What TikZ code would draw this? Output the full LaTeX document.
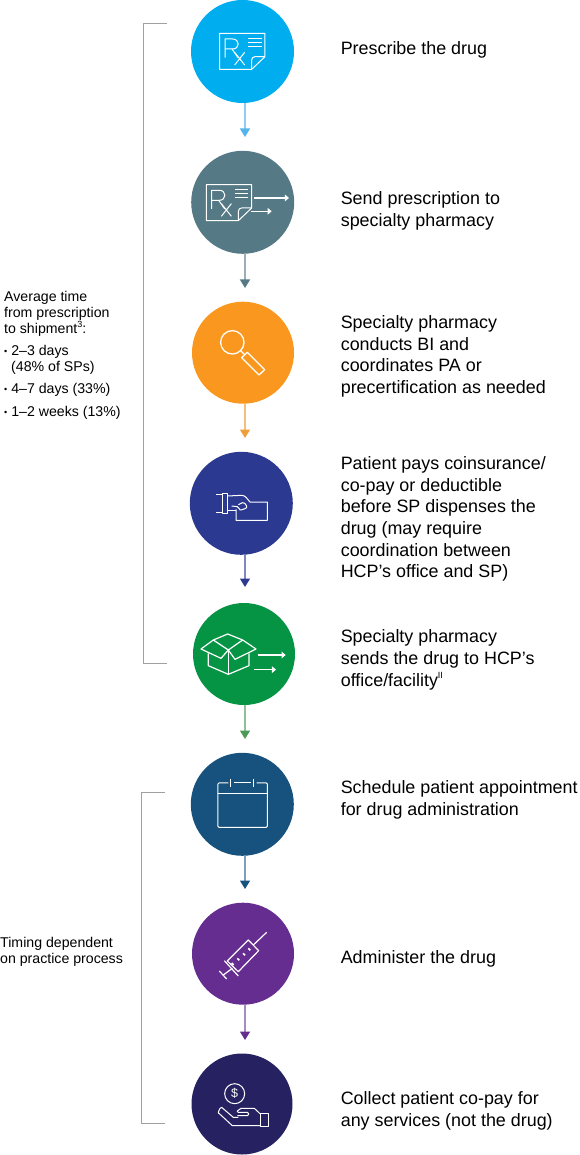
\documentclass[tikz,border=0pt]{standalone}
\usepackage{fontspec}
\setmainfont{Liberation Sans}
\usetikzlibrary{arrows.meta}
\definecolor{cA}{HTML}{00AEEF}\definecolor{cB}{HTML}{557A85}\definecolor{cC}{HTML}{F9971F}\definecolor{cD}{HTML}{2B3990}
\definecolor{cE}{HTML}{059444}\definecolor{cF}{HTML}{16527D}\definecolor{cG}{HTML}{662D91}\definecolor{cH}{HTML}{262262}
\definecolor{lA}{HTML}{8FCDF1}\definecolor{lB}{HTML}{9AAFB8}\definecolor{lC}{HTML}{F2BE82}\definecolor{lD}{HTML}{7F88BD}
\definecolor{lE}{HTML}{8FC097}\definecolor{lF}{HTML}{7F9DB8}\definecolor{lG}{HTML}{A58BC0}
\definecolor{hA}{HTML}{55B5EA}\definecolor{hC}{HTML}{EE9F3B}\definecolor{hE}{HTML}{4C9A55}
\definecolor{bracketgray}{HTML}{A0A0A0}
\newcommand{\mainsize}{\fontsize{17.9}{21.7}\selectfont}
\newcommand{\sidesize}{\fontsize{14.15}{16}\selectfont}
\newcommand{\smallbullet}{{\fontsize{9}{9}\selectfont\raisebox{1pt}{•}}}
\newcommand{\supr}[1]{\raisebox{.42em}{\fontsize{9}{9}\selectfont #1}}
\newcommand{\rxicon}[2]{%
\begin{scope}[shift={(#1,#2)},x=.3333pt,y=-.3333pt,icon]
\draw (29,25)--(165,25)--(165,95)--(125,133)--(29,133)--cycle;
\draw (125,133)--(125,105) to[out=90,in=180] (135,95)--(165,95);
\draw (45,98)--(45,42)--(68,42) .. controls (90,42) and (90,72) .. (68,72)--(45,72);
\draw (66,72)--(84,98);
\draw (74,82)--(104,120) (104,82)--(74,120);
\draw (115,40)--(155,40) (115,52)--(155,52) (115,64)--(155,64);
\end{scope}}
\tikzset{
  circ/.style={circle,minimum size=#1,inner sep=0pt,outer sep=0pt},
  circ/.default=103pt,
  icon/.style={draw=white,line width=1pt,line join=round},
  iconarrow/.style={draw=white,line width=1.1pt,-{Triangle[width=6.5pt,length=4pt,color=white]}},
  steptext/.style={anchor=west,align=left,inner sep=0pt,font=\mainsize,text=black},
  sidetext/.style={anchor=west,align=left,inner sep=0pt,font=\sidesize,text=black},
  bracket/.style={draw=bracketgray,line width=.9pt},
  conn/.style n args={2}{draw=#1,line width=1.5pt,-{Triangle[width=10pt,length=8.5pt,color=#2]}}
}
\begin{document}
\begin{tikzpicture}[x=1pt,y=-1pt]
\useasboundingbox (0,0) rectangle (579,1155);
% circles
\node[circ,fill=cA] (c1) at (242.5,51.5) {};
\node[circ,fill=cB] (c2) at (242.7,202.3) {};
\node[circ=102pt,fill=cC] (c3) at (243,352.7) {};
\node[circ,fill=cD] (c4) at (241.3,503.3) {};
\node[circ=102pt,fill=cE] (c5) at (244,654) {};
\node[circ,fill=cF] (c6) at (242.3,804.3) {};
\node[circ=102pt,fill=cG] (c7) at (243,953.7) {};
\node[circ=101pt,fill=cH] (c8) at (242,1104) {};
% connector ends
\coordinate (t1) at (245,137);
\coordinate (t2) at (245,288);
\coordinate (t3) at (245,438);
\coordinate (t4) at (245,587);
\coordinate (t5) at (245,739);
\coordinate (t6) at (245,889);
\coordinate (t7) at (245,1040);
\draw[conn={lA}{hA}] (c1.south -| t1) -- (t1);
\draw[conn={lB}{cB}] (c2.south -| t2) -- (t2);
\draw[conn={lC}{hC}] (c3.south -| t3) -- (t3);
\draw[conn={lD}{cD}] (c4.south -| t4) -- (t4);
\draw[conn={lE}{hE}] (c5.south -| t5) -- (t5);
\draw[conn={lF}{cF}] (c6.south -| t6) -- (t6);
\draw[conn={lG}{cG}] (c7.south -| t7) -- (t7);
% brackets
\coordinate (ba) at (167,23.5);
\coordinate (bb) at (143.3,23.5);
\coordinate (bc) at (143.3,663.5);
\coordinate (bd) at (167,663.5);
\draw[bracket] (ba) -- (bb) -- (bc) -- (bd);
\coordinate (be) at (165,792.5);
\coordinate (bf) at (141.5,792.5);
\coordinate (bg) at (141.5,1123.5);
\coordinate (bh) at (165,1123.5);
\draw[bracket] (be) -- (bf) -- (bg) -- (bh);
% step texts
\node[steptext] (s1) at (340.6,50) {Prescribe the drug};
\node[steptext] (s2) at (340.6,211) {Send prescription to\\specialty pharmacy};
\node[steptext] (s3) at (340.6,356.5) {Specialty pharmacy\\conducts BI and\\coordinates PA or\\precertification as needed};
\node[steptext] (s4) at (340.6,519) {Patient pays coinsurance/\\co-pay or deductible\\before SP dispenses the\\drug (may require\\coordination between\\HCP’s office and SP)};
\node[steptext] (s5) at (340.6,660) {Specialty pharmacy\\sends the drug to HCP’s\\office/facility\supr{II}};
\node[steptext] (s6) at (340.6,800) {Schedule patient appointment\\for drug administration};
\node[steptext] (s7) at (340.6,959) {Administer the drug};
\node[steptext] (s8) at (340.6,1111) {Collect patient co-pay for\\any services (not the drug)};
% side texts
\node[sidetext] (l1) at (4,355.5) {Average time\\from prescription\\to shipment\supr{3}:\\[6.5pt]\smallbullet{} 2–3 days\\\hspace*{7pt}(48\% of SPs)\\[6pt]\smallbullet{} 4–7 days (33\%)\\[7pt]\smallbullet{} 1–2 weeks (13\%)};
\node[sidetext] (l2) at (0,951.5) {Timing dependent\\on practice process};
% icon 1, 2
\rxicon{210}{25}
\rxicon{196.7}{176.3}
\begin{scope}[shift={(130,0)},x=.3333pt,y=-.3333pt]
\draw[iconarrow] (373,594)--(477,594);
\draw[iconarrow] (363,634)--(425,634);
\end{scope}
% icon 3 magnifier
\begin{scope}[shift={(130,295)},x=.3333pt,y=-.3333pt,icon,line width=1.3pt]
\draw (307,142) circle (11.7pt);
\draw (332,167)--(343,178);
\draw (352,172)--(404,224)--(387,240)--(335,188)--cycle;
\end{scope}
% icon 4 hand and card
\begin{scope}[shift={(205,480)},x=.3333pt,y=-.3333pt,icon]
\draw (52,40) rectangle (67,100);
\draw (32,44)--(52,44) (32,96)--(52,96);
\draw (67,48)--(110,46) to[out=0,in=135] (135,66)--(187,66)--(187,121)--(93,121)--(93,88);
\draw (67,92)--(93,92);
\draw (80,78)--(97,80) to[out=0,in=200] (108,90) to[out=20,in=-60] (125,78) to[out=120,in=20] (112,68)--(100,74);
\end{scope}
% icon 5 box
\begin{scope}[shift={(195,625)},x=.3333pt,y=-.3333pt,icon,line width=1.2pt]
\draw (55,45)--(98,27)--(143,45)--(183,72)--(120,103)--(100,75)--(78,100)--(18,72)--cycle;
\draw (55,45)--(100,75)--(143,45);
\draw (40,85)--(40,122)--(100,148)--(162,122)--(162,85);
\draw (100,75)--(100,148);
\draw[iconarrow] (188,90)--(272,90);
\draw[iconarrow] (177,134)--(243,134);
\end{scope}
% icon 6 calendar
\begin{scope}[shift={(130,595)},x=.3333pt,y=-.3333pt,icon]
\draw[rounded corners=1pt] (295,564)--(264,564)--(264,697)--(412,697)--(412,564)--(380,564);
\draw (312,564)--(362,564);
\draw (303,551)--(303,577) (372,551)--(372,577);
\draw (264,595)--(412,595);
\end{scope}
% icon 7 syringe
\begin{scope}[shift={(130,890)},x=.3333pt,y=-.3333pt,icon,line width=1.2pt]
\draw (355,150)--(386,182)--(325,245)--(292,213)--cycle;
\draw (283,212)--(325,258);
\draw (307,235)--(280,255);
\draw (268,243)--(290,267);
\draw (370,165)--(410,127);
\draw[line width=1.6pt] (305,219)--(311,225) (322,205)--(328,211) (339,190)--(345,196) (355,175)--(361,181);
\end{scope}
% icon 8 coin and hand
\begin{scope}[shift={(205,1075)},x=.3333pt,y=-.3333pt,icon]
\draw (89,56) circle (10pt);
\node[text=white,font=\fontsize{12.5}{13}\selectfont,inner sep=0pt] (dollar) at (89,56) {\$};
\draw (168,114) rectangle (191,155);
\draw (165,152)--(82,152)--(42,115) to[out=-135,in=180] (50,97)--(85,127)--(100,127);
\draw (97,108)--(108,100)--(148,100)--(165,116);
\draw (97,122)--(128,122) to[out=0,in=0] (128,112)--(100,112) to[out=180,in=140] (97,108);
\end{scope}
\end{tikzpicture}
\end{document}
